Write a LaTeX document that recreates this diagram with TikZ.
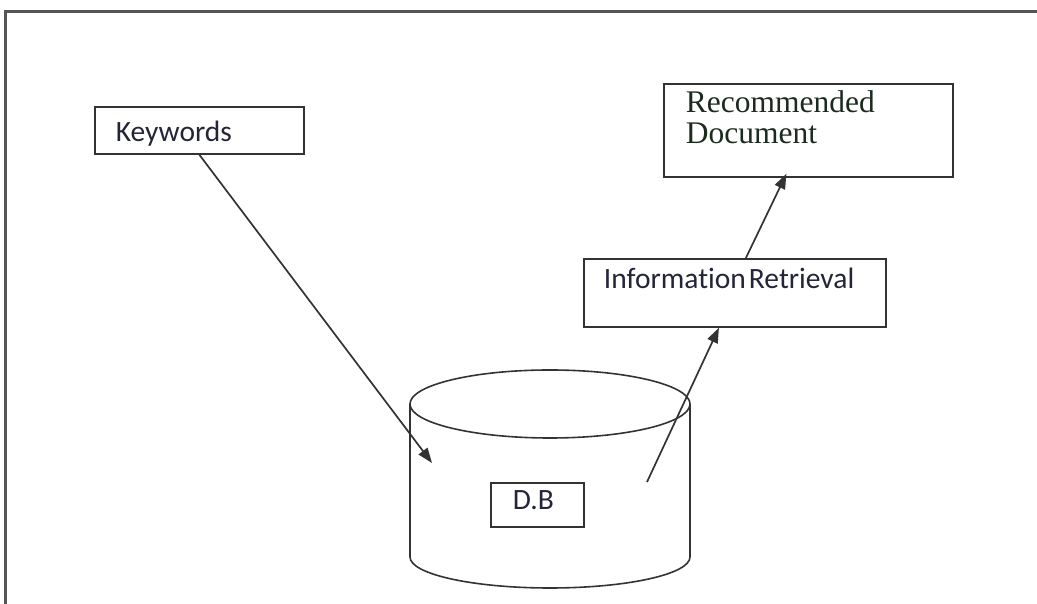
\documentclass[tikz,border=0pt]{standalone}
\usepackage{fontspec}
\setsansfont{Carlito}[Ligatures=NoCommon]
\newfontfamily\recfont{Liberation Serif}
\usetikzlibrary{calc, arrows.meta}
\definecolor{myline}{HTML}{333333}
\definecolor{myframe}{HTML}{555555}
\definecolor{mytext}{HTML}{24243A}
\definecolor{mygreen}{HTML}{1C2B1E}

\begin{document}
\begin{tikzpicture}[
    x=1pt, y=1pt, % one unit = one pixel of the sketch
    box/.style={draw=myline, line width=1.8pt, anchor=north west, inner ysep=0pt,
        align=left, text=mytext, font=\sffamily\fontsize{29.5}{35}\selectfont},
    flow/.style={draw=myline, line width=1.7pt, -{Triangle[length=15pt, width=11pt]}}
]

    \useasboundingbox (0,0) rectangle (1037,604);

    % --- 1. OUTER FRAME (runs off the page right and below) ---
    \draw[myframe, line width=3pt] (5,-5) -- (5,592) -- (1045,592);

    % --- 2. THE DATABASE CYLINDER ---
    \def\cx{550}
    \def\rx{140}
    \draw[myline, line width=1.6pt] (\cx,200) ellipse[x radius=\rx, y radius=34];
    \draw[myline, line width=1.6pt] (\cx-\rx,200) -- (\cx-\rx,47)
        arc[start angle=180, end angle=360, x radius=\rx, y radius=31] -- (\cx+\rx,200);

    % --- 3. BOXES ---
    \node[box, text width=167pt, inner xsep=21pt, text height=35pt, text depth=12pt]
        (kw) at (94,498) {Keywords};
    \node[box, text width=49pt, inner xsep=22pt, text height=27pt, text depth=17pt]
        (db) at (490,122) {D.B};
    \node[box, text width=262pt, inner xsep=20pt, text height=30pt, text depth=38pt]
        (ir) at (583,346) {Information\hspace{3pt}Retrieval};
    \node[box, text width=245pt, inner xsep=22pt, text height=29pt, text depth=64pt,
        text=mygreen, font=\recfont\fontsize{31.5}{31}\selectfont]
        (rec) at (663,521) {Recommended\\Document};

    % --- 4. ARROWS ---
    \coordinate (db in) at (432,141);
    \coordinate (db out) at (647,122);
    \draw[flow] (kw.south) -- (db in);
    \draw[flow] (db out) -- ($(ir.south)+(-16,0)$);
    \draw[flow] ($(ir.north)+(11,0)$) -- ($(rec.south)+(-22,4)$);

\end{tikzpicture}
\end{document}
